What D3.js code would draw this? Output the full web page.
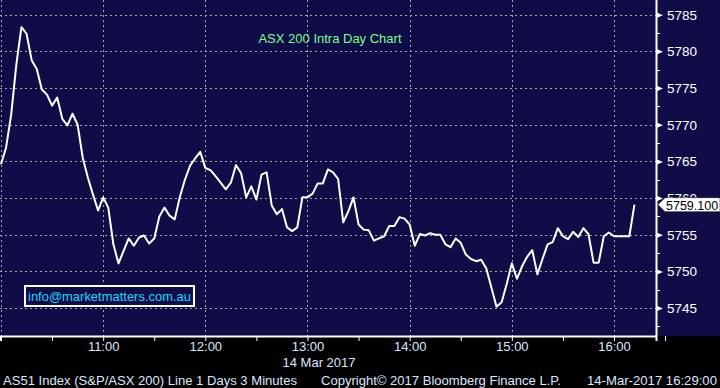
<!DOCTYPE html>
<html>
<head>
<meta charset="utf-8">
<script src="https://cdn.jsdelivr.net/npm/d3@7"></script>
<style>
  body { margin: 0; background: #000; }
  svg { display: block; }
</style>
</head>
<body>
<div id="chart"></div>
<script>
let width = 720;
let height = 388;
let plot = ({left: 0, right: 656, top: 0, bottom: 336});

// ASX 200 intraday, one value per 3 minutes from 10:00
let startTime = new Date(2017, 2, 14, 10, 0);
let stepMinutes = 3;
let prices = [
  5764.6, 5766.9, 5771.4, 5778.2, 5783.3, 5782.4, 5778.8, 5777.6, 5774.8, 5774.1,
  5772.6, 5773.7, 5770.8, 5769.9, 5771.5, 5770.0, 5765.5, 5762.8, 5760.5, 5758.3,
  5760.1, 5758.7, 5753.7, 5751.1, 5752.8, 5754.5, 5753.5, 5754.6, 5754.9, 5753.8,
  5754.5, 5757.5, 5758.7, 5757.6, 5757.1, 5760.1, 5762.5, 5764.4, 5765.4, 5766.3,
  5764.1, 5763.8, 5763.0, 5762.1, 5761.2, 5762.1, 5764.5, 5763.4, 5760.1, 5761.6,
  5759.8, 5763.2, 5763.5, 5759.0, 5757.8, 5758.5, 5756.0, 5755.5, 5756.0, 5760.1,
  5760.1, 5760.6, 5762.0, 5762.0, 5763.9, 5763.5, 5762.6, 5756.7, 5758.2, 5760.1,
  5756.4, 5755.7, 5755.6, 5754.2, 5754.5, 5754.8, 5756.2, 5756.2, 5757.4, 5757.2,
  5756.4, 5753.5, 5755.1, 5754.9, 5755.2, 5755.0, 5755.0, 5753.7, 5753.3, 5754.5,
  5753.9, 5752.3, 5751.7, 5751.4, 5751.6, 5750.4, 5747.8, 5745.2, 5745.8, 5748.3,
  5751.1, 5749.0, 5750.7, 5752.0, 5752.9, 5749.6, 5751.7, 5753.7, 5754.0, 5755.9,
  5754.8, 5754.4, 5755.4, 5754.7, 5755.9, 5755.1, 5751.2, 5751.2, 5754.8, 5755.3,
  5754.8, 5754.8, 5754.8, 5754.8, 5759.1
];
let lastValue = "5759.100";

let priceTicks = [5745, 5750, 5755, 5760, 5765, 5770, 5775, 5780, 5785];
let priceMinor = [5742.5, 5747.5, 5752.5, 5757.5, 5762.5, 5767.5, 5772.5, 5777.5, 5782.5];
let hourLabels = ["10:00", "11:00", "12:00", "13:00", "14:00", "15:00", "16:00"];

let title = "ASX 200 Intra Day Chart";
let watermark = "info@marketmatters.com.au";
let dateLabel = "14 Mar 2017";
let footer = ["AS51 Index (S&P/ASX 200) Line 1 Days 3 Minutes",
              "Copyright\u00a9 2017 Bloomberg Finance L.P.",
              "14-Mar-2017 16:29:00"];

let data = prices.map(function(p, i) {
  return {time: d3.timeMinute.offset(startTime, i * stepMinutes), price: p};
});

let svg = d3.select("#chart")
  .append("svg")
  .attr("width", width)
  .attr("height", height)
  .style("font-family", "'Liberation Sans', Arial, sans-serif");

// backgrounds
svg.append("rect").attr("width", width).attr("height", height).attr("fill", "#000");
svg.append("rect").attr("width", width).attr("height", plot.bottom).attr("fill", "#0f0c47");

let xScale = d3.scaleTime()
  .domain([new Date(2017, 2, 14, 9, 59, 25), new Date(2017, 2, 14, 16, 24, 40)])
  .range([plot.left, plot.right]);

let yScale = d3.scaleLinear()
  .domain([5741.2, 5787])
  .range([plot.bottom, plot.top]);

let parseHour = d3.timeParse("%H:%M");
let hourDates = hourLabels.map(function(h) {
  let t = parseHour(h);
  return new Date(2017, 2, 14, t.getHours(), t.getMinutes());
});

// dotted grid
let grid = svg.append("g")
  .attr("stroke", "#aaa69a")
  .attr("stroke-width", 1)
  .attr("stroke-dasharray", "2,3");

grid.selectAll(".hgrid")
  .data(priceTicks)
  .enter().append("line")
  .attr("x1", plot.left).attr("x2", plot.right)
  .attr("y1", d => Math.round(yScale(d)) + 0.5)
  .attr("y2", d => Math.round(yScale(d)) + 0.5);

grid.selectAll(".vgrid")
  .data(hourDates)
  .enter().append("line")
  .attr("y1", plot.top).attr("y2", plot.bottom)
  .attr("x1", d => Math.round(xScale(d)) + 0.5)
  .attr("x2", d => Math.round(xScale(d)) + 0.5);

// price line
let line = d3.line()
  .x(d => xScale(d.time))
  .y(d => yScale(d.price));

svg.append("path")
  .datum(data)
  .attr("d", line)
  .attr("fill", "none")
  .attr("stroke", "#fff")
  .attr("stroke-width", 2)
  .attr("stroke-linejoin", "round");

// bottom time axis
let halfHours = d3.timeMinute.every(30).range(new Date(2017, 2, 14, 10, 0), new Date(2017, 2, 14, 16, 31));
let xAxis = d3.axisBottom(xScale)
  .tickValues(halfHours)
  .tickSize(5)
  .tickPadding(1)
  .tickFormat(function(d) {
    return (d.getMinutes() === 0 && d.getHours() > 10) ? d3.timeFormat("%H:%M")(d) : "";
  });

let xg = svg.append("g")
  .attr("transform", "translate(0," + plot.bottom + ")")
  .call(xAxis);
xg.select(".domain").attr("stroke", "#fff").attr("stroke-width", 2);
xg.selectAll(".tick line").attr("stroke", "#fff");
xg.selectAll(".tick text")
  .attr("fill", "#dde6ff")
  .style("font-size", "13px")
  .style("font-family", "'Liberation Sans', Arial, sans-serif");

svg.append("text")
  .attr("x", 319)
  .attr("y", 367)
  .attr("text-anchor", "middle")
  .attr("fill", "#dde6ff")
  .style("font-size", "13px")
  .text(dateLabel);

// right price axis
let yAxis = d3.axisRight(yScale)
  .tickValues(priceTicks)
  .tickSize(0)
  .tickPadding(11)
  .tickFormat(d3.format("d"));

let yg = svg.append("g")
  .attr("transform", "translate(" + plot.right + ",0)")
  .call(yAxis);
yg.select(".domain").remove();
yg.selectAll(".tick text")
  .attr("fill", "#fff")
  .style("font-size", "13.5px")
  .style("font-family", "'Liberation Sans', Arial, sans-serif");
yg.selectAll(".tick")
  .append("path")
  .attr("d", "M0,-3L7,0L0,3Z")
  .attr("fill", "#fff");

yg.selectAll(".minor")
  .data(priceMinor)
  .enter().append("line")
  .attr("x1", 0).attr("x2", 4)
  .attr("y1", d => Math.round(yScale(d)) + 0.5)
  .attr("y2", d => Math.round(yScale(d)) + 0.5)
  .attr("stroke", "#fff");

svg.append("line")
  .attr("x1", plot.right + 0.5).attr("x2", plot.right + 0.5)
  .attr("y1", 0).attr("y2", plot.bottom)
  .attr("stroke", "#fff")
  .attr("stroke-width", 2);

// last value tag
let lastY = yScale(prices[prices.length - 1]);
let tag = svg.append("g").attr("transform", "translate(" + (plot.right + 2) + "," + lastY + ")");
tag.append("path")
  .attr("d", "M0,0L7,-7L62,-7L62,7L7,7Z")
  .attr("fill", "#fff")
  .attr("stroke", "#000")
  .attr("stroke-width", 0.5);
tag.append("text")
  .attr("x", 8)
  .attr("y", 5)
  .attr("fill", "#000")
  .style("font-size", "12.5px")
  .text(lastValue);

// title
svg.append("text")
  .attr("x", 330)
  .attr("y", 43)
  .attr("text-anchor", "middle")
  .attr("fill", "#7dfc8c")
  .style("font-size", "13px")
  .text(title);

// watermark box
svg.append("rect")
  .attr("x", 25).attr("y", 286)
  .attr("width", 169).attr("height", 20)
  .attr("fill", "#0f0c47")
  .attr("stroke", "#fff")
  .attr("stroke-width", 2);
svg.append("text")
  .attr("x", 28)
  .attr("y", 301)
  .attr("fill", "#19d6ff")
  .attr("textLength", 163)
  .attr("lengthAdjust", "spacingAndGlyphs")
  .style("font-size", "13px")
  .text(watermark);

// footer
let footerX = [3, 321, 587];
let footerW = [294, 240, 130];
svg.selectAll(".footer")
  .data(footer)
  .enter().append("text")
  .attr("x", (d, i) => footerX[i])
  .attr("y", 385)
  .attr("fill", "#dde6ff")
  .attr("textLength", (d, i) => footerW[i])
  .attr("lengthAdjust", "spacingAndGlyphs")
  .style("font-size", "13px")
  .text(d => d);
</script>
</body>
</html>
